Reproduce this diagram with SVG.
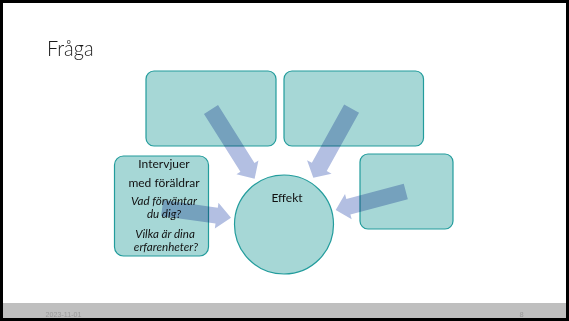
<svg xmlns="http://www.w3.org/2000/svg" width="569" height="321" viewBox="0 0 569 321">
<style>
.box{fill:#a6d7d6;stroke:#229c9c;stroke-width:1.2}
.arrow{fill:#b3bfe2;mix-blend-mode:multiply}
.t{font-family:Lato,"Open Sans","DejaVu Sans",sans-serif;fill:#111;font-size:12px;text-anchor:middle}
.i{font-style:italic;font-size:11.6px}
.foot{font-family:"Liberation Sans",Arial,sans-serif;font-size:7.5px;fill:#999}
</style>
<rect x="0" y="0" width="569" height="321" fill="#000"/>
<rect x="3" y="3" width="563" height="315" fill="#fff"/>
<rect x="3" y="303" width="563" height="15" fill="#bfbfbf"/>
<text class="foot" x="45.5" y="317" textLength="36" lengthAdjust="spacingAndGlyphs">2023-11-01</text>
<text class="foot" x="519.5" y="317">8</text>
<text x="47" y="56" font-family="Lato,'Open Sans',sans-serif" font-weight="300" font-size="22" fill="#1a1a1a" textLength="46.5" lengthAdjust="spacingAndGlyphs">Fråga</text>
<g id="box-top-left"><rect class="box" x="146" y="71" width="130" height="75" rx="8"/></g>
<g id="box-top-right"><rect class="box" x="284" y="71" width="139.5" height="75" rx="8"/></g>
<g id="box-right"><rect class="box" x="360" y="154" width="93" height="75" rx="8"/></g>
<g id="box-left"><rect class="box" x="114.5" y="156" width="94" height="100" rx="9"/>
<text class="t" x="164" y="168">Intervjuer</text>
<text class="t" x="164" y="187">med föräldrar</text>
<text class="t i" x="164" y="205">Vad förväntar</text>
<text class="t i" x="164" y="218">du dig?</text>
<text class="t i" x="165" y="238">Vilka är dina</text>
<text class="t i" x="166" y="251">erfarenheter?</text>
</g>
<g id="effekt"><circle class="box" cx="284" cy="224.5" r="49.5"/>
<text class="t" x="287" y="202">Effekt</text></g>
<g id="connectors">
<polygon class="arrow" points="203.98,113.92 240.42,171.87 236.44,174.37 254.62,178.87 258.44,160.53 254.46,163.03 218.02,105.08"/>
<polygon class="arrow" points="344.16,104.58 311.86,162.86 307.05,160.19 313.3,177.8 331.55,173.77 326.74,171.1 359.04,112.82"/>
<polygon class="arrow" points="403.76,183.76 346.32,198.91 345.02,193.98 335.7,210 351.7,219.32 350.4,214.39 407.84,199.24"/>
<polygon class="arrow" points="163.32,200.08 217.77,207.78 218.47,202.83 231,217.7 214.83,228.57 215.53,223.62 161.08,215.92"/>
</g>
</svg>
